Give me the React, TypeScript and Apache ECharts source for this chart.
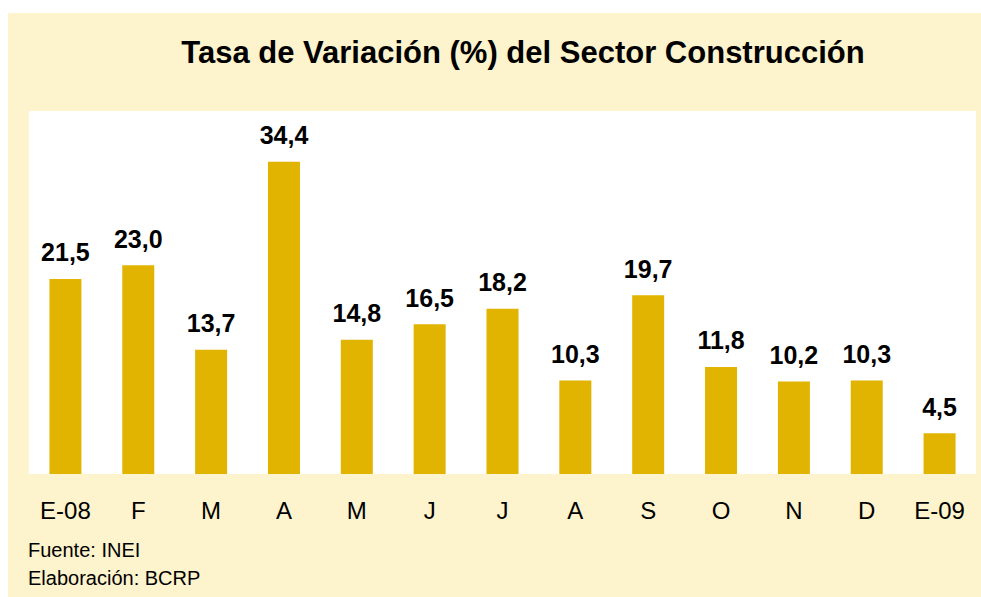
import React, { useEffect, useRef } from "react";
import * as echarts from "echarts";

const categories = ["E-08", "F", "M", "A", "M", "J", "J", "A", "S", "O", "N", "D", "E-09"];
const values = [21.5, 23.0, 13.7, 34.4, 14.8, 16.5, 18.2, 10.3, 19.7, 11.8, 10.2, 10.3, 4.5];
const titleText = "Tasa de Variación (%) del Sector Construcción";
const sourceLines = ["Fuente: INEI", "Elaboración: BCRP"];

export default function App() {
  const ref = useRef<HTMLDivElement>(null);
  useEffect(() => {
    if (!ref.current) return;
    const chart = echarts.init(ref.current, null, { renderer: "svg" });
    const font = "'Liberation Sans', Arial, sans-serif";
    chart.setOption({
      animation: false,
      backgroundColor: "#ffffff",
      title: {
        text: titleText,
        left: 518,
        top: 47,
        textAlign: "center",
        textVerticalAlign: "middle",
        textStyle: { fontFamily: font, fontSize: 31, fontWeight: "bold", color: "#000" },
      },
      graphic: [
        {
          type: "rect",
          z: -10,
          silent: true,
          shape: { x: 8, y: 13, width: 973, height: 584 },
          style: { fill: "#FDF3CC" },
        },
        {
          type: "text",
          left: 28,
          top: 540,
          style: { text: sourceLines[0], font: `20px ${font}`, fill: "#000" },
        },
        {
          type: "text",
          left: 28,
          top: 568,
          style: { text: sourceLines[1], font: `20px ${font}`, fill: "#000" },
        },
      ],
      grid: {
        left: 29,
        top: 111,
        width: 947,
        height: 363,
        show: true,
        backgroundColor: "#ffffff",
        borderWidth: 0,
        containLabel: false,
      },
      xAxis: {
        type: "category",
        data: categories,
        axisLine: { show: false },
        axisTick: { show: false },
        axisLabel: {
          fontFamily: font,
          fontSize: 24,
          color: "#000",
          margin: 24,
          interval: 0,
        },
      },
      yAxis: {
        type: "value",
        min: 0,
        max: 40,
        show: false,
        splitLine: { show: false },
      },
      series: [
        {
          type: "bar",
          data: values,
          barWidth: 32,
          itemStyle: { color: "#E0B400" },
          label: {
            show: true,
            position: "top",
            distance: 14,
            fontFamily: font,
            fontSize: 25,
            fontWeight: "bold",
            color: "#000",
            formatter: (p: any) => p.value.toFixed(1).replace(".", ","),
          },
        },
      ],
    });
    return () => chart.dispose();
  }, []);
  return (
    <div
      ref={ref}
      style={{ position: "fixed", left: 0, top: 0, width: 981, height: 597 }}
    />
  );
}
